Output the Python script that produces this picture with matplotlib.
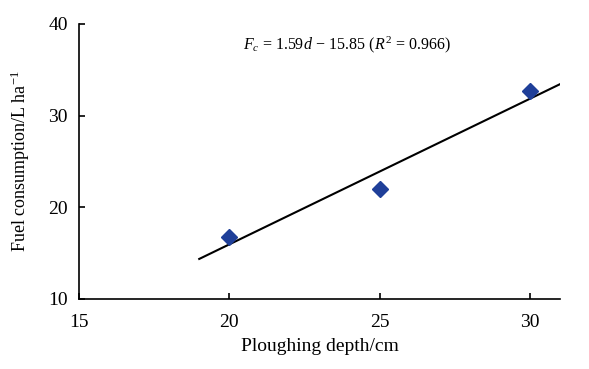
import matplotlib
matplotlib.use('Agg')
import matplotlib.pyplot as plt
import numpy as np

plt.rcParams['font.family'] = ['Liberation Serif', 'DejaVu Serif']
plt.rcParams['mathtext.fontset'] = 'custom'
plt.rcParams['mathtext.rm'] = 'Liberation Serif'
plt.rcParams['mathtext.it'] = 'Liberation Serif:italic'

# 資料
depth = [20, 25, 30]           # 耕深 cm
fuel = [16.8, 22.0, 32.7]      # 油耗 L/ha
slope = 1.59
intercept = -15.85
fit_range = [19, 31]
x_ticks = [15, 20, 25, 30]
y_ticks = [10, 20, 30, 40]

fig = plt.figure(figsize=(5.89, 3.69), dpi=100)
ax = fig.add_axes([0.134, 0.19, 0.817, 0.745])

# 迴歸線
xf = np.array(fit_range)
ax.plot(xf, slope * xf + intercept, color='black', linewidth=1.5)
# 數據點
ax.plot(depth, fuel, linestyle='none', marker='D', markersize=8,
        color='#1f3f99', markeredgecolor='#1f3f99')

ax.set_xlim(15, 31)
ax.set_ylim(10, 40)
ax.set_xticks(x_ticks)
ax.set_yticks(y_ticks)
for s in ['top', 'right']:
    ax.spines[s].set_visible(False)
for s in ['left', 'bottom']:
    ax.spines[s].set_linewidth(1.2)
ax.tick_params(direction='in', length=4, width=1.2, labelsize=14)
ax.tick_params(axis='x', pad=11)
ax.tick_params(axis='y', pad=8)

ax.set_xlabel('Ploughing depth/cm', fontsize=14, labelpad=5)
ax.set_ylabel('Fuel consumption/L ha$^{-1}$', fontsize=13, labelpad=12)

ax.text(20.45, 37.7, r'$F_c$ = 1.59$\,d$ $-$ 15.85 ($R^2$ = 0.966)', fontsize=11.5,
        va='center', ha='left')

fig.savefig('out.png', dpi=100)
